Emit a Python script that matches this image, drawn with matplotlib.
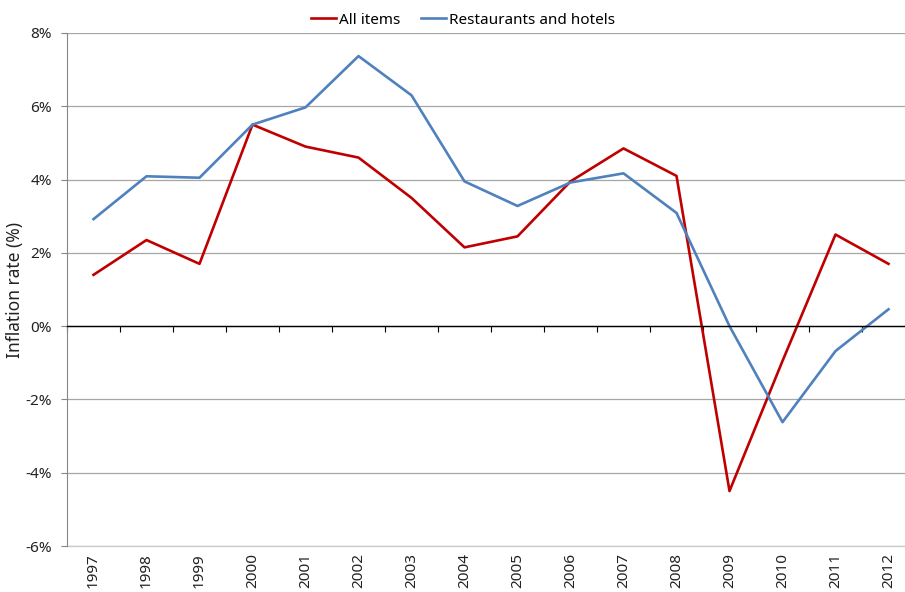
import numpy as np
import matplotlib.pyplot as plt
from matplotlib.ticker import FuncFormatter

years = [str(y) for y in range(1997, 2013)]

# annual inflation rate, %
all_items = [1.4, 2.35, 1.7, 5.5, 4.9, 4.6, 3.5, 2.15, 2.45, 3.95,
             4.85, 4.1, -4.5, -0.95, 2.5, 1.7]
restaurants = [2.92, 4.09, 4.05, 5.5, 5.97, 7.37, 6.3, 3.95, 3.28, 3.92,
               4.17, 3.09, 0.0, -2.62, -0.68, 0.46]

plt.rcParams["font.family"] = ["Noto Sans", "DejaVu Sans"]
plt.rcParams["font.size"] = 11

fig = plt.figure(figsize=(9.05, 5.92), dpi=100)
ax = fig.add_axes([67 / 905, 1 - 546 / 592, 848 / 905, 513 / 592])

x = np.arange(len(years))
ax.plot(x, all_items, color="#C00000", lw=1.9, label="All items")
ax.plot(x, restaurants, color="#4F81BD", lw=1.9, label="Restaurants and hotels")

ax.set_xlim(-0.5, len(years) - 0.5)
ax.set_ylim(-6, 8)
ax.set_yticks(np.arange(-6, 9, 2))
ax.yaxis.set_major_formatter(FuncFormatter(lambda v, p: f"{v:.0f}%"))
ax.yaxis.grid(True, color="#A6A6A6", lw=0.9)
ax.set_axisbelow(True)
ax.tick_params(axis="y", length=4, color="#868686", pad=7, labelcolor="#222222")

# axis line at zero with ticks between categories
ax.spines["bottom"].set_position(("data", 0))
ax.spines["bottom"].set_color("black")
ax.spines["bottom"].set_linewidth(1.0)
ax.set_xticks(np.arange(-0.5, len(years), 1))
ax.set_xticklabels([])
ax.tick_params(axis="x", length=4, direction="out", color="black")

ax.spines["top"].set_visible(False)
ax.spines["right"].set_visible(False)
ax.spines["left"].set_color("#868686")

# year labels under the plot area
sec = ax.secondary_xaxis("bottom")
sec.set_xticks(x)
sec.set_xticklabels(years, rotation=90)
sec.tick_params(length=0, pad=5, labelcolor="#222222")
sec.spines["bottom"].set_color("#C8C8C8")
sec.spines["bottom"].set_linewidth(0.9)

ax.set_ylabel("Inflation rate (%)", fontsize=12.5, labelpad=1, color="#222222")

fig.legend(loc="center", bbox_to_anchor=(463 / 905, 1 - 20 / 592), ncol=2,
           frameon=False, handlelength=1.6, handletextpad=0.2,
           columnspacing=1.4, fontsize=11)

fig.savefig("out.png", dpi=100)
